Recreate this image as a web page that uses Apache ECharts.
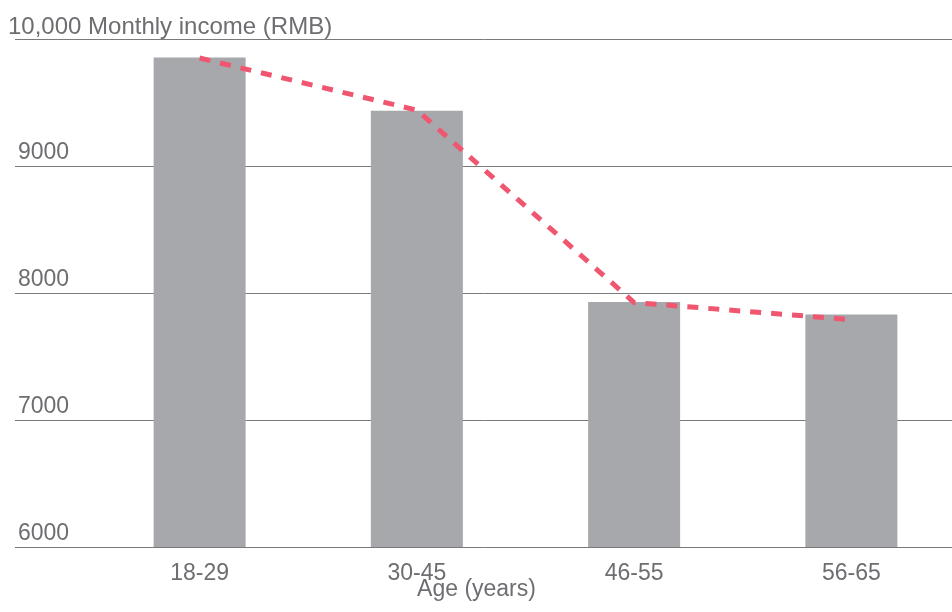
<!DOCTYPE html>
<html>
<head>
<meta charset="utf-8">
<script src="https://cdn.jsdelivr.net/npm/echarts@6/dist/echarts.min.js"></script>
<style>html,body{margin:0;padding:0;background:#fff}#c{width:952px;height:612px}</style>
</head>
<body>
<div id="c"></div>
<script>
const categories = ['18-29', '30-45', '46-55', '56-65'];
const barValues = [9855, 9435, 7930, 7830];
const lineValues = [9850, 9440, 7925, 7790];
const yTicks = [6000, 7000, 8000, 9000, 10000];
const yTitle = '10,000 Monthly income (RMB)';
const xTitle = 'Age (years)';

const FONT = '"Liberation Sans", Arial, sans-serif';
const TXT = '#6d6e71';
const FS = 23;
const chart = echarts.init(document.getElementById('c'), null, {renderer: 'canvas'});
chart.setOption({
  animation: false,
  backgroundColor: '#fff',
  textStyle: {fontFamily: FONT},
  title: {
    text: yTitle, left: 8, top: 15, padding: 0,
    textStyle: {fontFamily: FONT, fontSize: 24, fontWeight: 'normal', color: TXT}
  },
  grid: [
    {left: 15, right: 0, top: 39, bottom: 65, containLabel: false, outerBoundsMode: 'none'},
    {left: 91, width: 869, top: 39, bottom: 65, containLabel: false, outerBoundsMode: 'none'}
  ],
  xAxis: [
    {gridIndex: 0, type: 'value', min: 0, max: 1, show: true,
     axisLine: {show: false}, axisTick: {show: false}, axisLabel: {show: false}, splitLine: {show: false},
     name: xTitle, nameLocation: 'middle', nameGap: 31,
     nameTextStyle: {fontFamily: FONT, fontSize: FS, color: TXT, padding: [0, 14, 0, 0]}},
    {gridIndex: 1, type: 'category', data: categories,
     axisLine: {show: false}, axisTick: {show: false},
     axisLabel: {fontFamily: FONT, fontSize: FS, color: TXT, margin: 15}}
  ],
  yAxis: [
    {gridIndex: 0, type: 'value', min: yTicks[0], max: yTicks[yTicks.length - 1], interval: 1000,
     axisLine: {show: false}, axisTick: {show: false},
     axisLabel: {inside: true, align: 'left', verticalAlign: 'bottom', margin: 3,
       padding: [0, 0, 2, 0],
       fontFamily: FONT, fontSize: FS, color: TXT,
       formatter: v => (v === 10000 ? '' : String(v))},
     splitLine: {show: true, lineStyle: {color: '#7a7a7a', width: 1}}},
    {gridIndex: 1, type: 'value', min: yTicks[0], max: yTicks[yTicks.length - 1], interval: 1000,
     show: false, splitLine: {show: false}}
  ],
  series: [
    {type: 'bar', xAxisIndex: 1, yAxisIndex: 1, data: barValues, barWidth: 92,
     itemStyle: {color: '#a7a8ab'}, z: 3},
    {type: 'line', xAxisIndex: 1, yAxisIndex: 1, data: lineValues, symbol: 'none',
     lineStyle: {color: '#f0566f', width: 5, type: [11, 10]}, z: 4}
  ]
});
</script>
</body>
</html>
